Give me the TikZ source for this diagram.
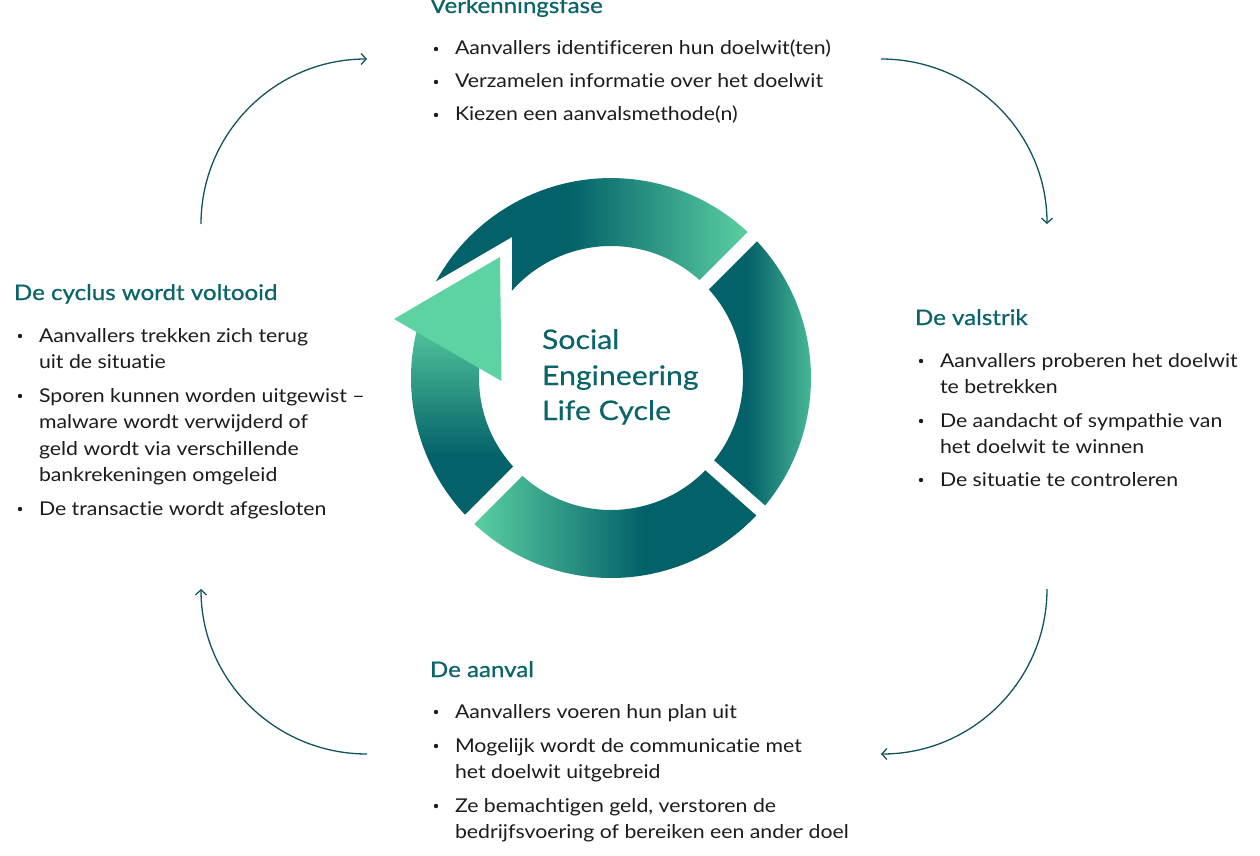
\documentclass[tikz,border=0pt]{standalone}
\usepackage{fontspec}
\setmainfont{Lato}[FakeStretch=1.12,Ligatures=NoCommon]
\newfontfamily\headf{Lato}[FakeBold=0.7,FakeStretch=1.12,Ligatures=NoCommon]
\newfontfamily\titlef{Lato}[FakeBold=0.35,FakeStretch=1.12,Ligatures=NoCommon]
\usetikzlibrary{arrows.meta,calc}
\definecolor{dk}{RGB}{3,97,105}
\definecolor{lt}{RGB}{93,210,163}
\definecolor{headc}{RGB}{10,100,106}
\definecolor{bodyc}{RGB}{28,28,28}
\definecolor{arrc}{RGB}{18,84,94}
\pgfdeclarehorizontalshading{topsh}{100bp}{color(0bp)=(dk); color(25bp)=(dk); color(46bp)=(dk); color(75bp)=(lt); color(100bp)=(lt)}
\pgfdeclarehorizontalshading{rightsh}{100bp}{color(0bp)=(dk); color(25bp)=(dk); color(42bp)=(dk); color(75bp)=(lt); color(100bp)=(lt)}
\pgfdeclarehorizontalshading{botsh}{100bp}{color(0bp)=(lt); color(25bp)=(lt); color(55bp)=(dk); color(75bp)=(dk); color(100bp)=(dk)}
\pgfdeclareverticalshading{leftsh}{100bp}{color(0bp)=(dk); color(25bp)=(dk); color(40bp)=(dk); color(75bp)=(lt); color(100bp)=(lt)}
\begin{document}
\begin{tikzpicture}[x=1pt,y=1pt,
  body/.style={anchor=base west,inner sep=0pt,outer sep=0pt,text=bodyc,font=\fontsize{19}{23}\selectfont},
  bul/.style={circle,fill=bodyc,inner sep=0pt,outer sep=0pt,minimum size=4.4pt},
  head/.style={anchor=base west,inner sep=0pt,outer sep=0pt,text=headc,font=\headf\fontsize{21.5}{26}\selectfont},
  ttl/.style={anchor=base west,inner sep=0pt,outer sep=0pt,text=headc,font=\titlef\fontsize{27}{32}\selectfont},
  conn/.style={draw=arrc,line width=1.3pt,-{Straight Barb[length=5pt,width=11pt]}},
  gapline/.style={white,line width=13pt}]
\useasboundingbox (0,0) rectangle (1260,-856);
\fill[white] (0,0) rectangle (1260,-856);
\coordinate (C) at (611,-378);
% ring segments
\shade[shading=topsh] (435.9,-281.4) arc[start angle=151.1,end angle=45,radius=200]
  -- ($(C)+(45:132)$) arc[start angle=45,end angle=138.6,radius=132] -- (512,-237) -- cycle;
\shade[shading=rightsh] ($(C)+(45:200)$) arc[start angle=45,end angle=-41.5,radius=200]
  -- ($(C)+(-41.5:132)$) arc[start angle=-41.5,end angle=45,radius=132] -- cycle;
\shade[shading=botsh] ($(C)+(-41.5:200)$) arc[start angle=-41.5,end angle=-135,radius=200]
  -- ($(C)+(-135:132)$) arc[start angle=-135,end angle=-41.5,radius=132] -- cycle;
\shade[shading=leftsh] ($(C)+(-135:200)$) arc[start angle=-135,end angle=-200,radius=200]
  -- ($(C)+(-200:132)$) arc[start angle=-200,end angle=-135,radius=132] -- cycle;
\draw[gapline] ($(C)+(45:120)$) -- ($(C)+(45:212)$);
\draw[gapline] ($(C)+(-41.5:120)$) -- ($(C)+(-41.5:212)$);
\draw[gapline] ($(C)+(-135:120)$) -- ($(C)+(-135:212)$);
\fill[lt] (394,-319) -- (500,-257) -- (501.5,-381) -- cycle;
% title
\node[ttl] (t1) at (542,-349) {Social};
\node[ttl] (t2) at (542,-385) {Engineering};
\node[ttl] (t3) at (542,-420) {Life Cycle};
% top block
\node[head] (vh) at (430,-13) {Verkenningsfase};
\node[bul] (vb1) at (436,-49) {};
\node[body] (v1) at (455,-55) {Aanvallers identificeren hun doelwit(ten)};
\node[bul] (vb2) at (436,-82) {};
\node[body] (v2) at (455,-88) {Verzamelen informatie over het doelwit};
\node[bul] (vb3) at (436,-115) {};
\node[body] (v3) at (455,-121) {Kiezen een aanvalsmethode(n)};
% right block
\node[head] (rh) at (915,-325) {De valstrik};
\node[bul] (rb1) at (921,-361) {};
\node[body] (r1) at (940,-367) {Aanvallers proberen het doelwit};
\node[body] (r1b) at (940,-393) {te betrekken};
\node[bul] (rb2) at (921,-421) {};
\node[body] (r2) at (940,-427) {De aandacht of sympathie van};
\node[body] (r2b) at (940,-453) {het doelwit te winnen};
\node[bul] (rb3) at (921,-480) {};
\node[body] (r3) at (940,-486) {De situatie te controleren};
% bottom block
\node[head] (bh) at (430,-677) {De aanval};
\node[bul] (bb1) at (436,-712) {};
\node[body] (b1) at (455,-718) {Aanvallers voeren hun plan uit};
\node[bul] (bb2) at (436,-746) {};
\node[body] (b2) at (455,-752) {Mogelijk wordt de communicatie met};
\node[body] (b2b) at (455,-778) {het doelwit uitgebreid};
\node[bul] (bb3) at (436,-806) {};
\node[body] (b3) at (455,-812) {Ze bemachtigen geld, verstoren de};
\node[body] (b3b) at (455,-838) {bedrijfsvoering of bereiken een ander doel};
% left block
\node[head] (lh) at (14,-300) {De cyclus wordt voltooid};
\node[bul] (lb1) at (20,-336) {};
\node[body] (l1) at (39,-342) {Aanvallers trekken zich terug};
\node[body] (l1b) at (39,-368) {uit de situatie};
\node[bul] (lb2) at (20,-396) {};
\node[body] (l2) at (39,-402) {Sporen kunnen worden uitgewist –};
\node[body] (l2b) at (39,-428) {malware wordt verwijderd of};
\node[body] (l2c) at (39,-455) {geld wordt via verschillende};
\node[body] (l2d) at (39,-481) {bankrekeningen omgeleid};
\node[bul] (lb3) at (20,-509) {};
\node[body] (l3) at (39,-515) {De transactie wordt afgesloten};
% connectors
\coordinate (a1s) at (201,-224);
\coordinate (a1e) at (367,-59);
\coordinate (a2s) at (881,-59);
\coordinate (a2e) at (1047,-224);
\coordinate (a3s) at (1047,-589);
\coordinate (a3e) at (881,-754);
\coordinate (a4s) at (367,-754);
\coordinate (a4e) at (201,-589);
\draw[conn] (a1s) to[out=90,in=180] (a1e);
\draw[conn] (a2s) to[out=0,in=90] (a2e);
\draw[conn] (a3s) to[out=-90,in=0] (a3e);
\draw[conn] (a4s) to[out=180,in=-90] (a4e);
\end{tikzpicture}
\end{document}
